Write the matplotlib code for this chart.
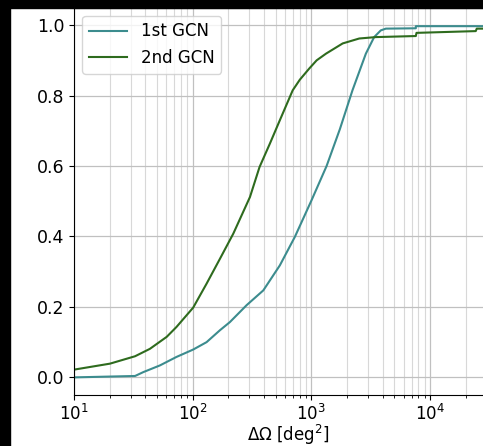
import numpy as np
import matplotlib.pyplot as plt
from matplotlib.patches import Rectangle

# CDF of sky localisation area

# 1st GCN notice
area_1st = [10, 32.7, 38.4, 53, 73, 101, 131, 170, 206, 285, 394, 543, 727,
            1005, 1345, 1742, 2223, 2882, 3385, 3850, 4245, 7600, 7600, 41253]
cdf_1st = [0.0, 0.004, 0.015, 0.034, 0.058, 0.079, 0.100, 0.134, 0.157, 0.205,
           0.247, 0.318, 0.399, 0.503, 0.600, 0.705, 0.815, 0.919, 0.966, 0.985,
           0.990, 0.991, 0.997, 0.997]

# 2nd GCN notice
area_2nd = [10, 20.1, 32.7, 43.6, 60.4, 73, 101, 131, 170, 220, 304, 366, 448,
            543, 697, 800, 962, 1109, 1330, 1838, 2535, 3505, 7600, 7700,
            24300, 24800, 41253]
cdf_2nd = [0.022, 0.039, 0.060, 0.081, 0.115, 0.143, 0.198, 0.266, 0.337, 0.408,
           0.512, 0.597, 0.664, 0.730, 0.815, 0.845, 0.877, 0.900, 0.919, 0.948,
           0.962, 0.966, 0.969, 0.978, 0.983, 0.990, 0.990]

labels = ["1st GCN", "2nd GCN"]
colors = ["#3c8c8e", "#2e6b1e"]

plt.rcParams['font.size'] = 12.5

fig = plt.figure(figsize=(4.83, 4.46), dpi=100, facecolor='white')
# axes is wider than the picture: the right side is cropped away
ax = fig.add_axes([74 / 483, 51 / 446, 429 / 483, 387.5 / 446])

ax.plot(area_1st, cdf_1st, color=colors[0], lw=1.5, label=labels[0])
ax.plot(area_2nd, cdf_2nd, color=colors[1], lw=1.5, label=labels[1])

ax.set_xscale('log')
ax.set_xlim(10, 41253)
ax.set_ylim(-0.05, 1.05)
ax.set_yticks([0.0, 0.2, 0.4, 0.6, 0.8, 1.0])
ax.tick_params(axis='x', labelsize=12, pad=3)
ax.set_xlabel(r'$\Delta\Omega$ [deg$^2$]', fontsize=12, labelpad=-1)

ax.grid(which='major', color='#c0c0c0', lw=0.9)
ax.grid(which='minor', axis='x', color='#d8d8d8', lw=0.8)
ax.set_axisbelow(True)

ax.legend(loc='upper left', fontsize=12, handlelength=2.3)

# black strips left by the screenshot crop
fig.patches.append(Rectangle((0, 0), 10 / 483, 1, transform=fig.transFigure,
                             color='black', zorder=10))
fig.patches.append(Rectangle((0, 438 / 446), 1, 8 / 446, transform=fig.transFigure,
                             color='black', zorder=10))

fig.savefig('out.png', dpi=100, facecolor='white')
